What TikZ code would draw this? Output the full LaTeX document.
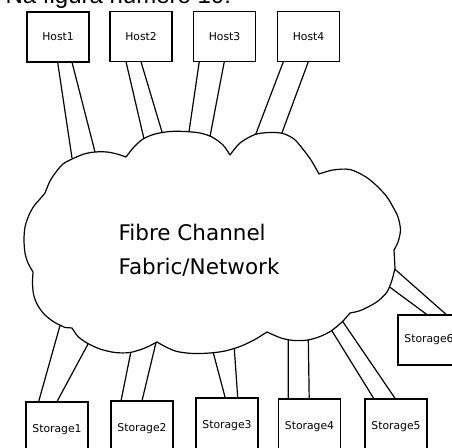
\documentclass[tikz,border=0pt]{standalone}
\usepackage{fontspec}
\setmainfont{DejaVu Sans}
\newfontfamily\headfont{Liberation Sans}
\begin{document}
\begin{tikzpicture}[x=1pt, y=-1pt, line width=1.2pt,
  hostbox/.style={draw, fill=white, inner sep=0pt, minimum width=62pt, minimum height=50pt,
    font=\fontsize{10.8}{12}\selectfont},
  storebox/.style={hostbox, minimum height=56pt},
  link/.style={draw, line width=1.2pt},
  cloudline/.style={draw, fill=white, line width=1.2pt, line join=round}]
\useasboundingbox (0,0) rectangle (452,447);
\clip (0,0) rectangle (452,447);

% caption line above the figure
\node[anchor=base west, inner sep=0pt, font=\headfont\fontsize{24}{24}\selectfont] (title) at (5,4) {Na figura número 10:};

% the fabric cloud
\path[cloudline]
  plot[smooth] coordinates {(45,193) (50,181) (56,172) (63,164) (72,159) (84,154) (95,152) (107,152) (117,154) (126,157)}
  -- plot[smooth] coordinates {(126,157) (134,147) (143,139) (155,134) (170,131.5) (185,131.5) (200,133) (212,137) (223,145) (230,155)}
  -- plot[smooth] coordinates {(230,155) (240,143) (255,134.5) (270,132.5) (283,133.5) (294,139) (302,148) (311,160) (319,174)}
  -- plot[smooth] coordinates {(319,174) (333,170) (350,169.5) (366,177) (378,187) (387,197) (393,207) (398,217) (400.5,230) (398,242) (394,250)}
  -- (395,268)
  -- plot[smooth] coordinates {(395,268) (392,280) (387,292) (378,301) (368,307) (359,311) (350,313)}
  -- plot[smooth] coordinates {(350,313) (342,322) (331,331) (320,336.5) (308,340) (294,340.5) (281,338) (267,332)}
  -- plot[smooth] coordinates {(267,332) (254,340) (240,346.5) (225,351) (210,353) (193,353.5) (177,351.5) (166,347) (157,342)}
  -- plot[smooth] coordinates {(157,342) (145,348) (130,352.5) (115,352.5) (100,349) (87,343) (78,336.5) (72,328)}
  -- (65,327.5)
  -- plot[smooth] coordinates {(65,327.5) (54,322) (44,314) (37,304) (33.5,294) (32.5,283) (33,272)}
  -- plot[smooth] coordinates {(33,272) (28,263) (25,253) (24,240) (25,227) (29,215) (34,206) (40,199) (45,193)}
  -- cycle;

\node[anchor=base west, inner sep=0pt, font=\fontsize{21.5}{26}\selectfont] (fc1) at (118,240.7) {Fibre Channel};
\node[anchor=base west, inner sep=0pt, font=\fontsize{21.5}{26}\selectfont] (fc2) at (118,274) {Fabric/Network};

% hosts
\node[hostbox] (h1) at (58,37) {Host1};
\node[hostbox] (h2) at (141,36.5) {Host2};
\node[hostbox] (h3) at (224.5,36.5) {Host3};
\node[hostbox] (h4) at (308.5,36.5) {Host4};

% storage units
\node[storebox] (s1) at (57,430) {Storage1};
\node[storebox] (s2) at (142,429) {Storage2};
\node[storebox] (s3) at (227,426) {Storage3};
\node[storebox] (s4) at (309.5,427) {Storage4};
\node[storebox] (s5) at (396,427) {Storage5};
\node[hostbox] (s6) at (429,340) {Storage6};

% attachment points on the cloud
\coordinate (c1a) at (72,158);
\coordinate (c1b) at (95,152);
\coordinate (c2a) at (144,139);
\coordinate (c2b) at (162.3,133);
\coordinate (c3a) at (189,131.7);
\coordinate (c3b) at (210,136.5);
\coordinate (c4a) at (255.7,134.3);
\coordinate (c4b) at (281.7,133.5);
\coordinate (d1a) at (60,325.5);
\coordinate (d1b) at (88.3,343.5);
\coordinate (d2a) at (130.7,352.8);
\coordinate (d2b) at (156,342.5);
\coordinate (d3a) at (213.3,352.8);
\coordinate (d3b) at (234.3,348.5);
\coordinate (d4a) at (288.3,340.2);
\coordinate (d4b) at (308.3,340);
\coordinate (d5a) at (331.7,330.5);
\coordinate (d5b) at (342.7,321.5);
\coordinate (d6a) at (395,269.3);
\coordinate (d6b) at (390,287.3);

% host links
\draw[link] ([xshift=31.3pt]h1.south west) -- (c1a);
\draw[link] ([xshift=45.7pt]h1.south west) -- (c1b);
\draw[link] ([xshift=16.7pt]h2.south west) -- (c2a);
\draw[link] ([xshift=31.7pt]h2.south west) -- (c2b);
\draw[link] ([xshift=6.3pt]h3.south west) -- (c3a);
\draw[link] ([xshift=31.3pt]h3.south west) -- (c3b);
\draw[link] ([xshift=6.3pt]h4.south west) -- (c4a);
\draw[link] ([xshift=31.3pt]h4.south west) -- (c4b);

% storage links
\draw[link] (d1a) -- ([xshift=13.3pt]s1.north west);
\draw[link] (d1b) -- ([xshift=31.7pt]s1.north west);
\draw[link] (d2a) -- ([xshift=10.7pt]s2.north west);
\draw[link] (d2b) -- ([xshift=31.7pt]s2.north west);
\draw[link] (d3a) -- ([xshift=29.7pt]s3.north west);
\draw[link] (d3b) -- ([xshift=42.3pt]s3.north west);
\draw[link] (d4a) -- ([xshift=10.3pt]s4.north west);
\draw[link] (d4b) -- ([xshift=31.3pt]s4.north west);
\draw[link] (d5a) -- ([xshift=9.3pt]s5.north west);
\draw[link] (d5b) -- ([xshift=30.7pt]s5.north west);
\draw[link] (d6a) -- ([xshift=48.7pt]s6.north west);
\draw[link] (d6b) -- ([xshift=29.3pt]s6.north west);
\end{tikzpicture}
\end{document}
